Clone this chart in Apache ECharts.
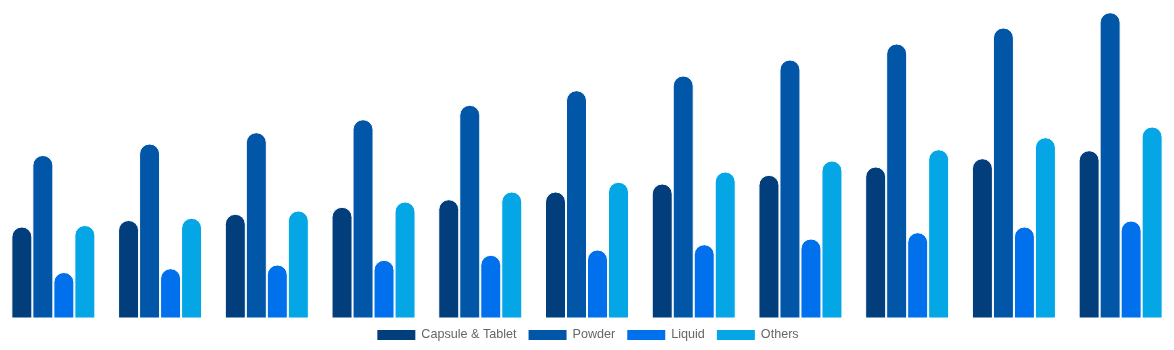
<!DOCTYPE html>
<html>
<head>
<meta charset="utf-8">
<script src="https://cdn.jsdelivr.net/npm/echarts@6/dist/echarts.min.js"></script>
<style>
html,body{margin:0;padding:0;background:#fff;}
#chart{width:1174px;height:350px;}
</style>
</head>
<body>
<div id="chart"></div>
<script>
const categories = ['2020','2021','2022','2023','2024','2025','2026','2027','2028','2029','2030'];
const seriesNames = ['Capsule & Tablet','Powder','Liquid','Others'];
const capsuleTablet = [92, 98.5, 104.7, 111.7, 119.3, 127, 135, 143.7, 152, 160.3, 168.3];
const powder = [163.5, 175, 186.3, 199.3, 213.7, 228.3, 243, 259, 275, 291, 306.3];
const liquid = [46.5, 50.3, 54, 58.7, 63.7, 69, 74.3, 80, 86.3, 92, 98];
const others = [93.5, 100.7, 108, 117, 127, 136.7, 147, 158, 169.3, 181.3, 192];
const colors = ['#023e7c', '#0156a7', '#0070ec', '#04a6e5'];

const dataSets = [capsuleTablet, powder, liquid, others];
const chart = echarts.init(document.getElementById('chart'));
chart.setOption({
  animation: false,
  color: colors,
  grid: {left: 0, right: 0, top: 12.5, bottom: 31.5, containLabel: false},
  legend: {
    data: seriesNames,
    bottom: 3,
    left: 'center',
    itemWidth: 40,
    itemHeight: 12,
    itemGap: 10,
    icon: 'rect',
    textStyle: {color: '#666', fontSize: 12.6, fontFamily: 'Liberation Sans, Arial, sans-serif'}
  },
  xAxis: {
    type: 'category',
    data: categories,
    show: false
  },
  yAxis: {
    type: 'value',
    min: 0,
    max: 306,
    show: false,
    splitLine: {show: false}
  },
  series: dataSets.map((d, i) => ({
    name: seriesNames[i],
    type: 'bar',
    data: d,
    barWidth: 21,
    barGap: '0%',
    itemStyle: {borderRadius: [10, 10, 0, 0], borderColor: '#fff', borderWidth: 1}
  }))
});
</script>
</body>
</html>
